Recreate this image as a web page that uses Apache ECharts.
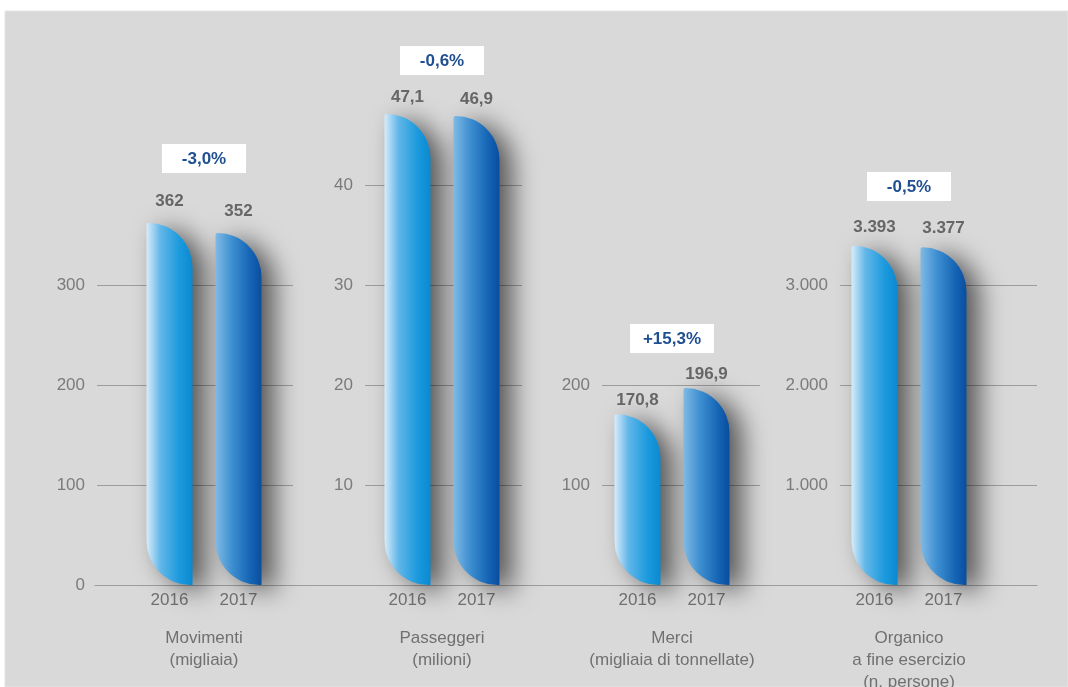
<!DOCTYPE html>
<html>
<head>
<meta charset="utf-8">
<script src="https://cdn.jsdelivr.net/npm/echarts@6/dist/echarts.min.js"></script>
<style>
  html, body { margin: 0; padding: 0; background: #fff; }
  #chart { width: 1068px; height: 687px; }
</style>
</head>
<body>
<div id="chart"></div>
<script>
// data
const years = ['2016', '2017'];
const panelNames = [
  'Movimenti\n(migliaia)',
  'Passeggeri\n(milioni)',
  'Merci\n(migliaia di tonnellate)',
  'Organico\na fine esercizio\n(n. persone)'
];
const movimenti = [362, 352];
const passeggeri = [47.1, 46.9];
const merci = [170.8, 196.9];
const organico = [3393, 3377];
const changes = ['-3,0%', '-0,6%', '+15,3%', '-0,5%'];
const axisMax = [399, 49, 299, 3999];
const axisStep = [100, 10, 100, 1000];
const decimals = [0, 1, 1, 0];

const panels = [movimenti, passeggeri, merci, organico];

// layout (px)
const BASE = 585;
const pxPerUnit = [1, 10, 1, 0.1];
const lineLeft = [97, 365, 602, 840];
const lineWidth = [196, 157, 158, 197];
const barLeft = [135, 373, 603, 840];
const labelDist = [13, 8, 5, 10];
const boxOffset = [65, 54, 50, 59];

const FONT = 'Liberation Sans, Arial, sans-serif';

// italian number format: 3.393 / 47,1
function fmt(v, d) {
  const parts = v.toFixed(d).split('.');
  const int = parts[0].replace(/\B(?=(\d{3})+(?!\d))/g, '.');
  return parts[1] ? int + ',' + parts[1] : int;
}

const grad2016 = new echarts.graphic.LinearGradient(0, 0, 1, 0, [
  {offset: 0, color: '#d8ecfa'},
  {offset: 0.3, color: '#63b7e8'},
  {offset: 0.7, color: '#1e9bde'},
  {offset: 1, color: '#0a89d2'}
]);
const grad2017 = new echarts.graphic.LinearGradient(0, 0, 1, 0, [
  {offset: 0, color: '#80bae5'},
  {offset: 0.35, color: '#3f90d1'},
  {offset: 0.75, color: '#1565b6'},
  {offset: 1, color: '#0a4d9e'}
]);
const barColors = [grad2016, grad2017];

const grids = [];
const xAxes = [];
const yAxes = [];
const series = [];

// grids 0-3: gridlines + y labels
panels.forEach((vals, i) => {
  const top = BASE - axisMax[i] * pxPerUnit[i];
  grids.push({left: lineLeft[i], width: lineWidth[i], top: top, bottom: 687 - BASE, outerBoundsMode: 'none'});
  xAxes.push({gridIndex: i, type: 'category', data: years, show: false});
  yAxes.push({
    gridIndex: i, type: 'value', min: 0, max: axisMax[i], interval: axisStep[i],
    axisLine: {show: false}, axisTick: {show: false},
    axisLabel: {
      color: '#7b7b7b', fontSize: 17, fontFamily: FONT, margin: 12,
      showMaxLabel: false,
      formatter: v => (v % axisStep[i] === 0 && (i === 0 || v > 0)) ? fmt(v, 0) : ''
    },
    splitLine: {show: true, showMinLine: false, showMaxLine: false, lineStyle: {color: '#9c9c9c', width: 1}}
  });
});

// grids 4-7: bars
panels.forEach((vals, i) => {
  const top = BASE - axisMax[i] * pxPerUnit[i];
  const g = 4 + i;
  grids.push({left: barLeft[i], width: 138, top: top, bottom: 687 - BASE, outerBoundsMode: 'none'});
  xAxes.push({
    gridIndex: g, type: 'category', data: years,
    axisLine: {show: false}, axisTick: {show: false},
    axisLabel: {color: '#707070', fontSize: 17, fontFamily: FONT, margin: 7},
    name: panelNames[i], nameLocation: 'middle', nameGap: 42,
    nameTextStyle: {color: '#707070', fontSize: 17, fontFamily: FONT, lineHeight: 22}
  });
  yAxes.push({gridIndex: g, type: 'value', min: 0, max: axisMax[i], show: false});
  series.push({
    type: 'bar', xAxisIndex: g, yAxisIndex: g, barWidth: 46,
    data: vals.map((v, j) => ({value: v, itemStyle: {color: barColors[j]}})),
    itemStyle: {
      borderRadius: [2, 44, 0, 44],
      shadowColor: 'rgba(0,0,0,0.6)', shadowBlur: 26, shadowOffsetX: 13, shadowOffsetY: 6
    },
    label: {
      show: true, position: 'top', distance: labelDist[i],
      color: '#666', fontWeight: 'bold', fontSize: 17, fontFamily: FONT,
      formatter: p => fmt(p.value, decimals[i])
    }
  });
});

// grid 8: continuous baseline
grids.push({left: 95, right: 31, top: 186, bottom: 687 - BASE, outerBoundsMode: 'none'});
xAxes.push({
  gridIndex: 8, type: 'category', data: [''],
  axisLine: {show: true, lineStyle: {color: '#9c9c9c', width: 1}},
  axisTick: {show: false}, axisLabel: {show: false}
});
yAxes.push({gridIndex: 8, type: 'value', min: 0, max: 1, show: false});

const chart = echarts.init(document.getElementById('chart'));
chart.setOption({
  animation: false,
  grid: grids,
  xAxis: xAxes,
  yAxis: yAxes,
  series: series,
  graphic: [{
    id: 'bg', type: 'rect', z: -100, silent: true,
    shape: {x: 5, y: 11, width: 1063, height: 676},
    style: {fill: '#d9d9d9', stroke: '#e4e4e4', lineWidth: 1}
  }]
});

// percentage boxes above each pair
const boxes = [];
panels.forEach((vals, i) => {
  const g = 4 + i;
  const x1 = chart.convertToPixel({xAxisIndex: g}, years[0]);
  const x2 = chart.convertToPixel({xAxisIndex: g}, years[1]);
  const yTop = chart.convertToPixel({yAxisIndex: g}, Math.max(vals[0], vals[1]));
  const cx = (x1 + x2) / 2;
  const cy = yTop - boxOffset[i];
  boxes.push({
    id: 'box' + i, type: 'rect', z: 10,
    shape: {x: Math.round(cx - 42), y: Math.round(cy - 14.5), width: 84, height: 29},
    style: {fill: '#ffffff'}
  });
  boxes.push({
    id: 'txt' + i, type: 'text', z: 11,
    style: {
      text: changes[i], x: cx, y: cy + 1,
      align: 'center', verticalAlign: 'middle',
      fill: '#1f4f91', font: 'bold 17px ' + FONT
    }
  });
});
chart.setOption({graphic: boxes});
</script>
</body>
</html>
